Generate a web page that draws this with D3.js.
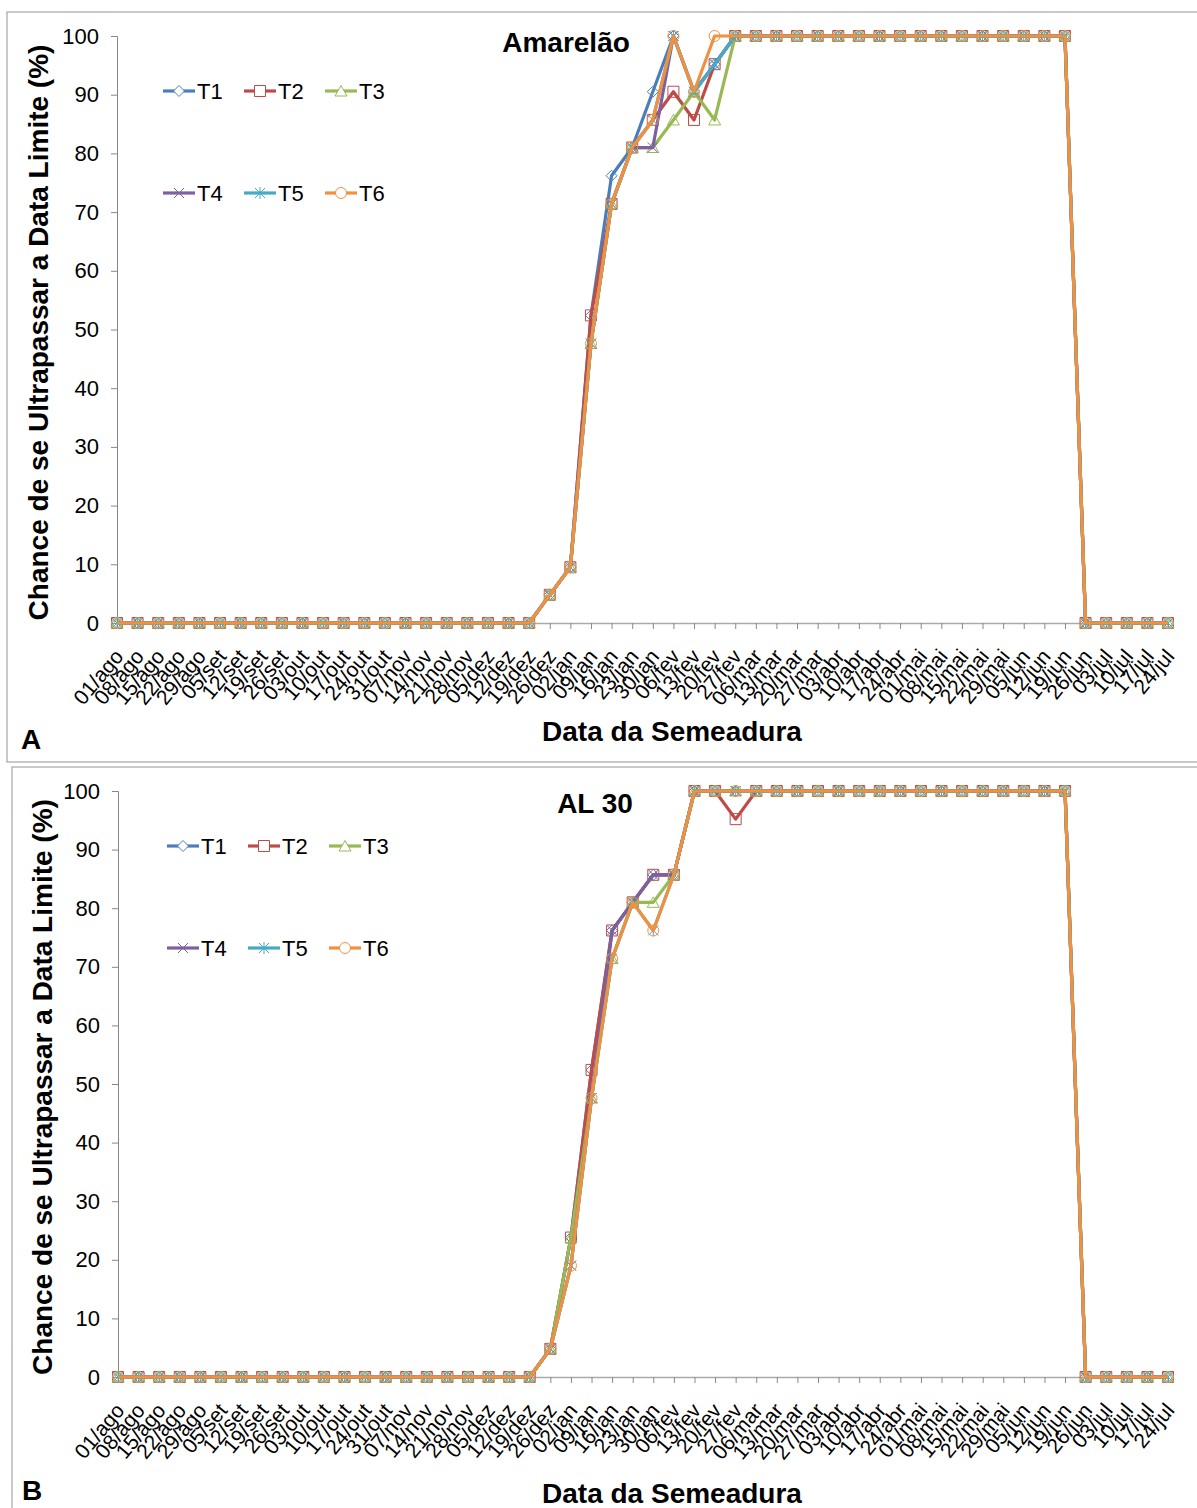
<!DOCTYPE html>
<html>
<head>
<meta charset="utf-8">
<script src="https://cdn.jsdelivr.net/npm/d3@7"></script>
<style>
  body { margin: 0; background: #fff; }
  svg { display: block; font-family: "Liberation Sans", Arial, sans-serif; }
</style>
</head>
<body>
<svg id="chart" width="1197" height="1508"></svg>
<script>
// semanas de semeadura (01/ago a 24/jul)
var categories = ['01/ago','08/ago','15/ago','22/ago','29/ago','05/set','12/set','19/set','26/set',
  '03/out','10/out','17/out','24/out','31/out','07/nov','14/nov','21/nov','28/nov',
  '05/dez','12/dez','19/dez','26/dez','02/jan','09/jan','16/jan','23/jan','30/jan',
  '06/fev','13/fev','20/fev','27/fev','06/mar','13/mar','20/mar','27/mar',
  '03/abr','10/abr','17/abr','24/abr','01/mai','08/mai','15/mai','22/mai','29/mai',
  '05/jun','12/jun','19/jun','26/jun','03/jul','10/jul','17/jul','24/jul'];

var seriesNames = ['T1','T2','T3','T4','T5','T6'];
var yTicks = [0,10,20,30,40,50,60,70,80,90,100];

// Amarelão
var amT1 = [0,0,0,0,0,0,0,0,0,0,0,0,0,0,0,0,0,0,0,0,0, 4.8,9.5,52.4,76.2,81.0,90.5,100,90.5,95.2, 100,100,100,100,100,100,100,100,100,100,100,100,100,100,100,100,100, 0,0,0,0,0];
var amT2 = [0,0,0,0,0,0,0,0,0,0,0,0,0,0,0,0,0,0,0,0,0, 4.8,9.5,52.4,71.4,81.0,85.7,90.5,85.7,95.2, 100,100,100,100,100,100,100,100,100,100,100,100,100,100,100,100,100, 0,0,0,0,0];
var amT3 = [0,0,0,0,0,0,0,0,0,0,0,0,0,0,0,0,0,0,0,0,0, 4.8,9.5,47.6,71.4,81.0,81.0,85.7,90.5,85.7, 100,100,100,100,100,100,100,100,100,100,100,100,100,100,100,100,100, 0,0,0,0,0];
var amT4 = [0,0,0,0,0,0,0,0,0,0,0,0,0,0,0,0,0,0,0,0,0, 4.8,9.5,47.6,71.4,81.0,81.0,100,90.5,95.2, 100,100,100,100,100,100,100,100,100,100,100,100,100,100,100,100,100, 0,0,0,0,0];
var amT5 = [0,0,0,0,0,0,0,0,0,0,0,0,0,0,0,0,0,0,0,0,0, 4.8,9.5,47.6,71.4,81.0,85.7,100,90.5,95.2, 100,100,100,100,100,100,100,100,100,100,100,100,100,100,100,100,100, 0,0,0,0,0];
var amT6 = [0,0,0,0,0,0,0,0,0,0,0,0,0,0,0,0,0,0,0,0,0, 4.8,9.5,47.6,71.4,81.0,85.7,100,90.5,100, 100,100,100,100,100,100,100,100,100,100,100,100,100,100,100,100,100, 0,0,0,0,0];

// AL 30
var alT1 = [0,0,0,0,0,0,0,0,0,0,0,0,0,0,0,0,0,0,0,0,0, 4.8,23.8,52.4,76.2,81.0,85.7,85.7,100,100,100, 100,100,100,100,100,100,100,100,100,100,100,100,100,100,100,100, 0,0,0,0,0];
var alT2 = [0,0,0,0,0,0,0,0,0,0,0,0,0,0,0,0,0,0,0,0,0, 4.8,23.8,52.4,76.2,81.0,85.7,85.7,100,100,95.2, 100,100,100,100,100,100,100,100,100,100,100,100,100,100,100,100, 0,0,0,0,0];
var alT3 = [0,0,0,0,0,0,0,0,0,0,0,0,0,0,0,0,0,0,0,0,0, 4.8,23.8,47.6,71.4,81.0,81.0,85.7,100,100,100, 100,100,100,100,100,100,100,100,100,100,100,100,100,100,100,100, 0,0,0,0,0];
var alT4 = [0,0,0,0,0,0,0,0,0,0,0,0,0,0,0,0,0,0,0,0,0, 4.8,19.0,47.6,76.2,81.0,85.7,85.7,100,100,100, 100,100,100,100,100,100,100,100,100,100,100,100,100,100,100,100, 0,0,0,0,0];
var alT5 = [0,0,0,0,0,0,0,0,0,0,0,0,0,0,0,0,0,0,0,0,0, 4.8,19.0,47.6,71.4,81.0,76.2,85.7,100,100,100, 100,100,100,100,100,100,100,100,100,100,100,100,100,100,100,100, 0,0,0,0,0];
var alT6 = [0,0,0,0,0,0,0,0,0,0,0,0,0,0,0,0,0,0,0,0,0, 4.8,19.0,47.6,71.4,81.0,76.2,85.7,100,100,100, 100,100,100,100,100,100,100,100,100,100,100,100,100,100,100,100, 0,0,0,0,0];

var colors = ['#4A7EBB','#BE4B48','#98B954','#7D60A0','#46AAC5','#F0913F'];

// marcadores no estilo do Excel
var markers = [
  'M0,-5.5L5.5,0L0,5.5L-5.5,0Z',                 // losango
  'M-5.5,-5.5H5.5V5.5H-5.5Z',                     // quadrado
  'M0,-5.5L6,5H-6Z',                              // triangulo
  'M-5,-5L5,5M-5,5L5,-5',                         // x
  'M-5,-5L5,5M-5,5L5,-5M0,-6V6',                  // asterisco
  'M5.5,0A5.5,5.5 0 1,1 -5.5,0A5.5,5.5 0 1,1 5.5,0Z' // circulo
];

var svg = d3.select('#chart');

function drawPanel(p) {
  var g = svg.append('g');

  g.append('rect')
    .attr('x', p.box[0]).attr('y', p.box[1])
    .attr('width', p.box[2]).attr('height', p.box[3])
    .attr('fill', 'none').attr('stroke', '#a6a6a6').attr('stroke-width', 1.2);

  var x = d3.scalePoint().domain(categories).range([p.left, p.right]);
  var y = d3.scaleLinear().domain([0, 100]).range([p.bottom, p.top]);

  // eixo y
  var ya = g.append('g')
    .attr('transform', 'translate(' + p.left + ',0)')
    .call(d3.axisLeft(y).tickValues(yTicks).tickSize(6).tickPadding(12));
  ya.select('.domain').attr('stroke', '#888');
  ya.selectAll('.tick line').attr('stroke', '#888');
  ya.selectAll('.tick text').attr('font-size', 22).attr('fill', '#000')
    .attr('font-family', '"Liberation Sans", Arial, sans-serif');

  // eixo x
  var xa = g.append('g')
    .attr('transform', 'translate(0,' + p.bottom + ')')
    .call(d3.axisBottom(x).tickSize(6).tickSizeOuter(0));
  xa.select('.domain').attr('stroke', '#aaa').attr('stroke-width', 1.5);
  xa.selectAll('.tick line').attr('stroke', '#888');
  xa.selectAll('.tick text')
    .attr('font-size', 21).attr('fill', '#000')
    .attr('font-family', '"Liberation Sans", Arial, sans-serif')
    .attr('text-anchor', 'end')
    .attr('transform', 'translate(7,34) rotate(-50)')
    .attr('dy', 0).attr('y', 0);

  // linhas e marcadores
  var line = d3.line()
    .x(function(d, i) { return x(categories[i]); })
    .y(function(d) { return y(d); });

  p.series.forEach(function(vals, si) {
    g.append('path')
      .datum(vals)
      .attr('fill', 'none')
      .attr('stroke', colors[si])
      .attr('stroke-width', 3.2)
      .attr('stroke-linejoin', 'round')
      .attr('d', line);
    g.selectAll('.m' + si)
      .data(vals)
      .enter().append('path')
      .attr('class', 'm' + si)
      .attr('d', markers[si])
      .attr('transform', function(d, i) { return 'translate(' + x(categories[i]) + ',' + y(d) + ')'; })
      .attr('fill', 'none')
      .attr('stroke', colors[si])
      .attr('stroke-width', 1);
  });

  // legenda
  seriesNames.forEach(function(name, si) {
    var col = si % 3, row = Math.floor(si / 3);
    var lx = p.legX + col * 81, ly = p.legY + row * 102;
    g.append('line')
      .attr('x1', lx).attr('x2', lx + 32).attr('y1', ly).attr('y2', ly)
      .attr('stroke', colors[si]).attr('stroke-width', 3.2);
    g.append('path')
      .attr('d', markers[si])
      .attr('transform', 'translate(' + (lx + 16) + ',' + ly + ')')
      .attr('fill', '#fff').attr('stroke', colors[si]).attr('stroke-width', 1);
    g.append('text')
      .attr('x', lx + 34).attr('y', ly + 8)
      .attr('font-size', 22)
      .text(name);
  });

  g.append('text')
    .attr('x', p.titleX).attr('y', p.titleY)
    .attr('text-anchor', 'middle')
    .attr('font-size', 28).attr('font-weight', 'bold')
    .text(p.title);

  g.append('text')
    .attr('transform', 'translate(' + p.yTitleX + ',' + ((p.top + p.bottom) / 2 + 3) + ') rotate(-90)')
    .attr('text-anchor', 'middle')
    .attr('font-size', 28).attr('font-weight', 'bold')
    .text('Chance de se Ultrapassar a Data Limite (%)');

  g.append('text')
    .attr('x', 672).attr('y', p.xTitleY)
    .attr('text-anchor', 'middle')
    .attr('font-size', 28).attr('font-weight', 'bold')
    .text('Data da Semeadura');

  g.append('text')
    .attr('x', p.letterX).attr('y', p.letterY)
    .attr('font-size', 28).attr('font-weight', 'bold')
    .text(p.letter);
}

drawPanel({
  box: [7, 12, 1200, 750], left: 117, right: 1168, top: 36, bottom: 623,
  series: [amT1, amT2, amT3, amT4, amT5, amT6],
  legX: 163, legY: 91, title: 'Amarelão', titleX: 566, titleY: 52,
  yTitleX: 48, xTitleY: 741, letter: 'A', letterX: 21, letterY: 749
});

drawPanel({
  box: [12, 767, 1200, 760], left: 118, right: 1168, top: 791, bottom: 1377,
  series: [alT1, alT2, alT3, alT4, alT5, alT6],
  legX: 167, legY: 846, title: 'AL 30', titleX: 595, titleY: 813,
  yTitleX: 52, xTitleY: 1503, letter: 'B', letterX: 22, letterY: 1500
});
</script>
</body>
</html>
